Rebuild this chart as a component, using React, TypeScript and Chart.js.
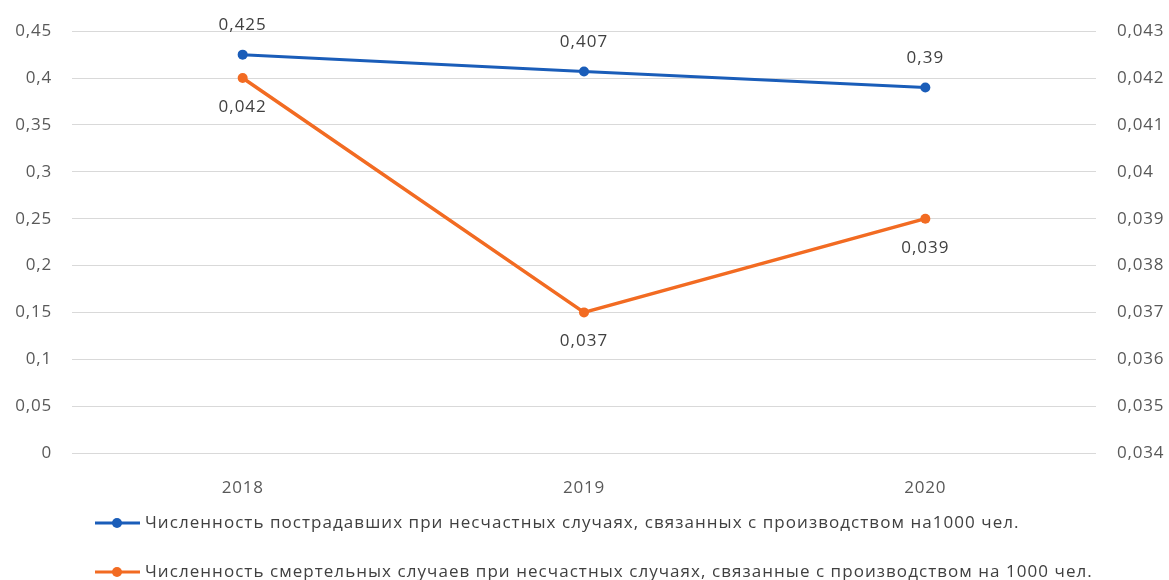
import React, { useEffect, useRef } from "react";
import { Chart, registerables } from "chart.js";

Chart.register(...registerables);

const categories = ["2018", "2019", "2020"];
const injuredValues = [0.425, 0.407, 0.39];
const deathValues = [0.042, 0.037, 0.039];
const leftTicks = { min: 0, max: 0.45, step: 0.05 };
const rightTicks = { min: 0.034, max: 0.043, step: 0.001 };
const seriesNames = [
  "Численность пострадавших при несчастных случаях, связанных с производством на1000 чел.",
  "Численность смертельных случаев при несчастных случаях, связанные с производством на 1000 чел.",
];
const BLUE = "#1a5db9";
const ORANGE = "#f26b22";
const FONT = "'Open Sans', 'DejaVu Sans', sans-serif";

const fmt = (v: number, d: number) => String(Number(v.toFixed(d))).replace(".", ",");

export default function App() {
  const ref = useRef<HTMLCanvasElement | null>(null);
  useEffect(() => {
    document.body.style.margin = "0";
    const labelsPlugin = {
      id: "labelsPlugin",
      beforeDraw(chart: any) {
        (chart.ctx as any).letterSpacing = "0.8px";
      },
      afterDatasetsDraw(chart: any) {
        const ctx = chart.ctx;
        ctx.save();
        ctx.letterSpacing = "1px";
        ctx.font = `17px ${FONT}`;
        ctx.fillStyle = "#404040";
        ctx.textAlign = "center";
        ctx.textBaseline = "middle";
        chart.data.datasets.forEach((ds: any, i: number) => {
          const meta = chart.getDatasetMeta(i);
          meta.data.forEach((pt: any, j: number) => {
            const off = i === 0 ? -29 : 29;
            ctx.fillText(fmt(ds.data[j], 3), pt.x, pt.y + off);
          });
        });
        ctx.restore();
      },
      afterDraw(chart: any) {
        const ctx = chart.ctx;
        ctx.save();
        ctx.letterSpacing = "1.05px";
        ctx.font = `17px ${FONT}`;
        ctx.textBaseline = "middle";
        ctx.textAlign = "left";
        const rows = [523, 572];
        chart.data.datasets.forEach((ds: any, i: number) => {
          const y = rows[i];
          ctx.strokeStyle = ds.borderColor;
          ctx.lineWidth = 3;
          ctx.beginPath();
          ctx.moveTo(95, y);
          ctx.lineTo(140, y);
          ctx.stroke();
          ctx.fillStyle = ds.borderColor;
          ctx.beginPath();
          ctx.arc(117, y, 5, 0, Math.PI * 2);
          ctx.fill();
          ctx.fillStyle = "#404040";
          ctx.fillText(seriesNames[i], 145, y);
        });
        ctx.restore();
      },
    };
    const chart = new Chart(ref.current as HTMLCanvasElement, {
      type: "line",
      data: {
        labels: categories,
        datasets: [
          {
            label: seriesNames[0],
            data: injuredValues,
            borderColor: BLUE,
            backgroundColor: BLUE,
            borderWidth: 3,
            pointRadius: 5,
            pointBorderWidth: 0,
            yAxisID: "y",
          },
          {
            label: seriesNames[1],
            data: deathValues,
            borderColor: ORANGE,
            backgroundColor: ORANGE,
            borderWidth: 3.5,
            pointRadius: 5,
            pointBorderWidth: 0,
            yAxisID: "y1",
          },
        ],
      },
      options: {
        animation: false,
        responsive: false,
        layout: { padding: { top: 28, bottom: 0, left: 0, right: 0 } },
        plugins: { legend: { display: false }, tooltip: { enabled: false } },
        scales: {
          x: {
            offset: true,
            grid: { display: false },
            border: { display: false },
            ticks: { color: "#595959", font: { size: 17, family: FONT }, padding: 17 },
            afterFit(s: any) {
              s.height = 127;
            },
          },
          y: {
            position: "left",
            min: leftTicks.min,
            max: leftTicks.max,
            grid: { color: "#d9d9d9", drawTicks: false, lineWidth: 1 },
            border: { display: false },
            ticks: {
              stepSize: leftTicks.step,
              color: "#595959",
              font: { size: 17, family: FONT },
              padding: 20,
              callback: (v: any) => fmt(Number(v), 2),
            },
            afterFit(s: any) {
              s.width = 72;
            },
          },
          y1: {
            position: "right",
            min: rightTicks.min,
            max: rightTicks.max,
            grid: { display: false, drawTicks: false },
            border: { display: false },
            ticks: {
              stepSize: rightTicks.step,
              color: "#595959",
              font: { size: 17, family: FONT },
              padding: 21,
              callback: (v: any) => fmt(Number(v), 3),
            },
            afterFit(s: any) {
              s.width = 73;
            },
          },
        },
      },
      plugins: [labelsPlugin],
    });
    return () => chart.destroy();
  }, []);
  return <canvas ref={ref} width={1169} height={580} style={{ display: "block" }} />;
}
